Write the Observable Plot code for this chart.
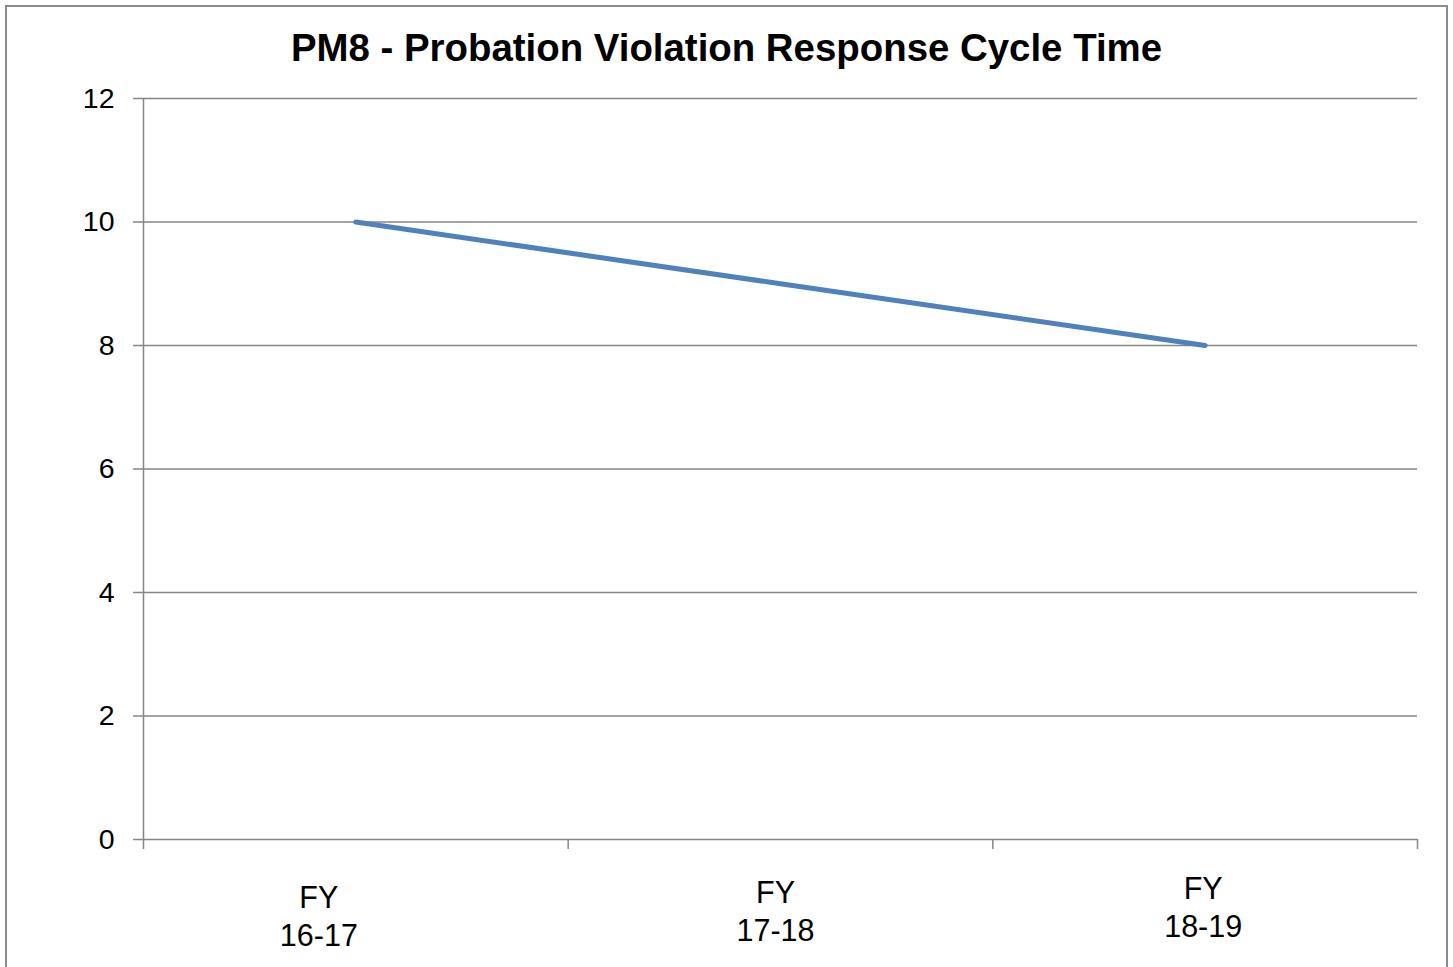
<!DOCTYPE html>
<html>
<head>
<meta charset="utf-8">
<script src="https://cdn.jsdelivr.net/npm/d3@7"></script>
<script src="https://cdn.jsdelivr.net/npm/@observablehq/plot@0.6"></script>
<style>
  html, body { margin: 0; padding: 0; background: #fff; overflow: hidden; }
  #wrap { position: relative; width: 1453px; height: 967px; font-family: "Liberation Sans", Arial, sans-serif; }
  #frame { position: absolute; left: 5px; top: 5px; width: 1439px; height: 1000px; border: 2px solid #8c8c8c; pointer-events: none; }
  #title { height: 80px; box-sizing: border-box; padding-top: 27px; line-height: 42px; font-size: 38.4px; font-weight: bold; text-align: center; color: #000; }
  #chart svg { display: block; }
</style>
</head>
<body>
<div id="wrap">
  <div id="title">PM8 - Probation Violation Response Cycle Time</div>
  <div id="chart"></div>
  <div id="frame"></div>
</div>
<script>
const categories = ["FY 16-17", "FY 17-18", "FY 18-19"];
const categoryLabels = ["FY\n16-17", "FY\n17-18", "FY\n18-19"];
const values = [10, 9, 8];
const yTicks = [0, 2, 4, 6, 8, 10, 12];

const data = categories.map((c, i) => ({category: c, pos: i + 0.5, value: values[i]}));
const boundaries = d3.range(0, categories.length + 1);
const labelPadding = [42, 37, 33];
const labelShift = [-37, -5, -2];

const grid = "#868686";
const font = "Liberation Sans, Arial, sans-serif";

const labelAxes = categories.map((c, i) => Plot.axisX([i + 0.5], {
  tickSize: 0,
  tickPadding: labelPadding[i],
  tickFormat: () => categoryLabels[i],
  fontSize: 30.5,
  lineHeight: 1.24,
  dx: labelShift[i],
  fill: "#000",
  label: null
}));

const chart = Plot.plot({
  width: 1453,
  height: 887,
  marginLeft: 143,
  marginRight: 36,
  marginTop: 18,
  marginBottom: 128,
  style: {fontFamily: font, background: "transparent", overflow: "visible"},
  x: {type: "linear", domain: [0, categories.length]},
  y: {domain: [0, 12]},
  marks: [
    Plot.gridY(yTicks, {stroke: grid, strokeOpacity: 1, strokeWidth: 1.5}),
    Plot.ruleX([0], {stroke: grid, strokeWidth: 1.5}),
    Plot.axisY(yTicks, {
      tickSize: 10, tickPadding: 19, stroke: grid, strokeWidth: 1.5,
      fontSize: 28.5, fill: "#000", tickFormat: d => String(d), label: null
    }),
    Plot.axisX(boundaries, {
      tickSize: 10, stroke: grid, strokeWidth: 1.5, tickFormat: () => "", label: null
    }),
    ...labelAxes,
    Plot.line(data, {x: "pos", y: "value", stroke: "#4f81bd", strokeWidth: 5, strokeLinecap: "round", strokeLinejoin: "round"})
  ]
});
document.getElementById("chart").appendChild(chart);
</script>
</body>
</html>
